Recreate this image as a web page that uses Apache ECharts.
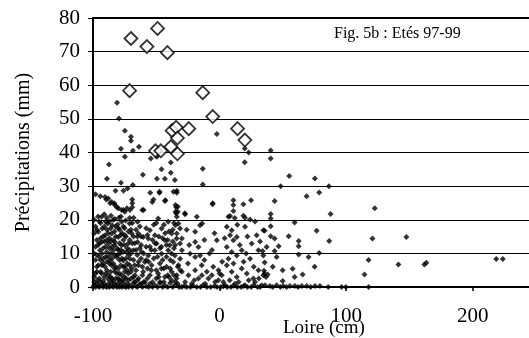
<!DOCTYPE html>
<html>
<head>
<meta charset="utf-8">
<script src="https://cdn.jsdelivr.net/npm/echarts@6/dist/echarts.min.js"></script>
<style>
  html, body {margin: 0; padding: 0; background: #fff; overflow: hidden;}
  /* the plot runs past the right edge of the window, as in the original */
  #chart {width: 536px; height: 338px;}
</style>
</head>
<body>
<div id="chart"></div>
<script>
// axis ticks
const xTicks = [-100, 0, 100, 200];
const yTicks = [0, 10, 20, 30, 40, 50, 60, 70, 80];

// open diamonds (highlighted events)
const diamonds = [
  [-70, 73.9], [-57.4, 71.5], [-49, 76.9], [-41.2, 69.7], [-71.1, 58.4],
  [-13.3, 57.8], [-5.4, 50.7], [-24.3, 47.1], [-37.5, 46.5], [-34.3, 47.5],
  [-33.3, 44.3], [-38.5, 41.7], [-33.3, 39.6], [-50.6, 40.5], [-46.4, 40.5],
  [14.2, 47.1], [20, 43.7]
];

// daily points : high values
const dotsHigh = [
  [-81, 54.8], [-79.5, 50.1], [-74.8, 46.5], [-70, 44.7], [-70, 43.5], [-77.9, 41.1],
  [-68.5, 40.5], [-63.7, 41.7], [-74.8, 38.7], [-54.3, 38.2], [-49.5, 38.7], [-87.4, 36.4],
  [-38.5, 37], [-45.9, 35], [-60.6, 33.4], [-38.5, 34], [-13.3, 35.2], [-2.2, 45.5],
  [-89, 32.2], [-49.5, 32.2], [-43.2, 32.2], [-35.3, 31.8], [-13.3, 30.5], [-77.9, 31],
  [19.9, 41.2], [23, 40], [19.9, 37.1], [40.4, 40.6], [40.4, 38.2]
];

// daily points : 20-30 mm band
const dotsMid = [
  [-98, 27.6], [-94.2, 27], [-89.5, 26], [-86.4, 24.9], [-83.2, 24.9], [-82.2, 28.6],
  [-75.9, 28.6], [-72.7, 29.3], [-68.5, 30.3], [-54.8, 28], [-47.5, 28], [-69, 26],
  [-69, 24.9], [-69, 23.7], [-52.2, 26], [-43.2, 25.6], [-33.8, 28.6], [-33.8, 28],
  [-81.1, 23.7], [-75.9, 22.9], [-73.2, 23.4], [-60, 22.9], [-34.3, 23.7], [-34.3, 21.9],
  [-27.4, 21.9], [-18, 20.9], [-13.8, 18.9], [-5.4, 24.9], [-90.5, 26.8], [-87.9, 26.3],
  [-85.3, 25.3], [-82.7, 24.4], [-80, 23.4], [-77.4, 22.9], [-70.8, 22.9], [-74.8, 22.4],
  [-53.2, 25.3], [-42.7, 25.8], [-61.1, 22.9], [-36.4, 28.3], [-34.8, 24.4], [-34.8, 22.4],
  [-47.4, 28.3], [-5.6, 24.6], [10.9, 25.8], [10.9, 24.4], [10.9, 22.6], [7, 20.9],
  [18.8, 24.6], [24.9, 25.8], [18.8, 21.2], [20.1, 20.6], [24.1, 20.1], [8.3, 21.1],
  [-33, 23.9], [-33, 22.4], [-33.8, 20.9], [-27.2, 21.6]
];

// daily points : x from -30 to 35, below 20 mm
const dotsCentre = [
  [-32.5, 18.9], [-31.2, 17.4], [-33.8, 15.9], [-15.4, 18.4], [-19.3, 16.4], [5.7, 17.9],
  [9.6, 16.9], [8.3, 15.4], [13.6, 14.9], [10.9, 13.9], [-2.2, 13.9], [20.1, 17.9],
  [29.3, 15.4], [34.6, 16.9], [-29.8, 14.4], [-31.2, 12.9], [-19.3, 13.4], [-16.7, 11.9],
  [-23.3, 9.9], [-19.3, 8.9], [-15.4, 9.4], [-29.8, 10.9], [-31.2, 8.4], [5.7, 11.9],
  [9.6, 10.4], [13.6, 9.4], [7, 8.4], [17.5, 10.9], [25.4, 12.9], [30.7, 10.9],
  [34.6, 9.4], [24.1, 8.4], [-32.5, 6.5], [-29.8, 4.5], [-24.6, 3.5], [-19.3, 5],
  [-14.1, 6.5], [-10.1, 4.5], [-6.2, 3.5], [-16.7, 2.5], [-0.9, 5], [1.7, 3.5],
  [5.7, 6.5], [9.6, 4.5], [13.6, 3], [17.5, 5.5], [21.5, 4], [26.7, 2.5],
  [30.7, 5], [34.6, 3.5], [-27.2, 1.5], [-22, 1], [-11.4, 1], [-3.5, 1.5],
  [4.4, 0.5], [12.2, 1], [20.1, 0.5], [28, 1.5], [33.3, 0.5], [-8.8, 2.5],
  [-33.8, 3.5], [-25, 7], [-12, 8], [-5, 6], [2, 7.5], [-8, 10], [-1, 2], [3, 1.5],
  [8, 2], [15, 1.5], [23, 2], [31, 2.5], [-20, 2], [-14, 3.5], [0, 4], [11, 7],
  [19, 7.5], [27, 6], [16, 12.5], [22, 15], [-4, 16], [-26, 17], [-24, 12.5], [-12, 14],
  [28, 19.5], [32, 13.5], [4, 14.5], [-6, 11], [14, 18.5], [12, 20.5], [21, 10]
];

// daily points : dense cloud, x from -100 to -30, below 22 mm
const dotsDense = [
  [-93.2, 20.9], [-91.1, 21.6], [-89, 20.6], [-85.8, 21.2], [-82.7, 20.2], [-79.5, 20.6],
  [-77.4, 19.4], [-74.2, 19.8], [-71.1, 18.9], [-67.9, 20.6], [-64.8, 19.4], [-88.4, 18.9],
  [-84.8, 18.4], [-80.6, 18.6], [-92.7, 17.4], [-48.5, 20.4], [-40.6, 19.4], [-34.8, 18.4],
  [-55, 16.9], [-51.1, 15.4], [-56.3, 14.4], [-45.8, 17.4], [-37.9, 15.9], [-43.2, 13.9],
  [-34, 14.4], [-64.2, 15.9], [-60.3, 14.9], [-64.8, 13.4], [-49.8, 12.9], [-39.3, 12.4],
  [-95.8, 16.4], [-90.5, 15.4], [-85.3, 15.9], [-80, 14.9], [-74.8, 15.4], [-69.5, 15.9],
  [-93.2, 13.4], [-87.9, 12.9], [-82.7, 13.4], [-77.4, 12.4], [-72.1, 12.9],
  [-94.5, 10.9], [-89.2, 10.4], [-84, 10.9], [-78.7, 9.9], [-73.5, 10.4], [-68.2, 10.9],
  [-91.9, 8.4], [-86.6, 7.9], [-81.3, 8.9], [-76.1, 7.9], [-70.8, 8.4],
  [-95.8, 6.5], [-90.5, 6], [-85.3, 6.5], [-80, 5.5], [-74.8, 6], [-69.5, 5.5], [-64.2, 6.5],
  [-93.2, 4], [-87.9, 3.5], [-82.7, 4.5], [-77.4, 3.5], [-72.1, 4], [-66.9, 3.5],
  [-61.6, 10.4], [-56.3, 9.4], [-51.1, 10.9], [-45.8, 9.9], [-40.6, 10.9], [-35.3, 9.4],
  [-59, 7.4], [-53.7, 6.5], [-47.1, 7], [-41.9, 6], [-36.6, 7.4], [-60.3, 4.5],
  [-55, 3.5], [-48.5, 4], [-43.2, 3], [-37.9, 4.5], [-34, 2.5],
  [-98, 12], [-98, 8], [-98, 4], [-98, 18], [-96, 21], [-97, 14], [-96.5, 2], [-94, 19],
  [-92, 15], [-90, 12], [-88, 9], [-86, 13.5], [-84, 7], [-83, 16.5], [-81, 11.5], [-79, 17],
  [-78, 6.5], [-76, 14], [-75, 17.5], [-73, 7], [-71, 14], [-70, 2.5], [-68, 8], [-67, 13],
  [-66, 17], [-63, 11.5], [-62, 8.5], [-58, 12], [-57, 5.5], [-52, 8.5], [-50, 2.5], [-46, 12],
  [-44, 5.5], [-39, 8], [-36, 11.5], [-33, 6], [-95, 9], [-93, 6.5], [-91, 3], [-89, 17],
  [-87, 19.5], [-85, 2.5], [-83, 9.5], [-82, 18], [-80, 2.5], [-78, 15.5], [-76, 10.5],
  [-74, 2.5], [-72, 16.5], [-70, 10], [-66, 5], [-64, 2.5], [-62, 15], [-59, 1.5], [-54, 11],
  [-52, 18.5], [-48, 15], [-44, 18.5], [-42, 9], [-40, 16.5], [-38, 2], [-36, 19], [-31, 5],
  [-99, 1.5], [-97, 6], [-95, 13], [-93, 10], [-91, 18], [-89, 7.5], [-87, 11.5], [-86, 4.5],
  [-84, 14], [-82, 6], [-80, 11], [-79, 8], [-77, 16], [-75, 4.5], [-73, 11.5], [-71, 6.5],
  [-69, 19], [-67, 1.5], [-65, 9.5], [-61, 3.5], [-58, 17.5], [-56, 7.5], [-53, 14], [-50, 5],
  [-47, 1.5], [-45, 14.5], [-42, 12.5], [-39, 5.5], [-37, 13.5], [-35, 1.5],
  [-99, 3], [-97, 4.5], [-95, 2.5], [-92, 1.8], [-90, 4], [-88, 2.3], [-86, 3], [-84, 1.8],
  [-82, 2.5], [-79, 4], [-77, 2], [-75, 3], [-72, 2], [-70, 4.5], [-68, 3], [-65, 2],
  [-62, 1], [-57, 2.5], [-53, 1.5], [-48, 3], [-44, 1.5], [-40, 3], [-36, 3.5], [-33, 1],
  [-99, 10], [-99, 16], [-99, 20], [-97, 9.5], [-97, 17], [-96, 12.5], [-95, 19.5], [-94, 8],
  [-94, 14.5], [-94, 4.5], [-92, 11.5], [-92, 7], [-91, 13.5], [-90, 9], [-90, 19.5], [-89, 14],
  [-89, 5], [-88, 16], [-87, 7], [-87, 14.5], [-86, 10], [-86, 17.5], [-85, 12], [-85, 8.5],
  [-84, 20], [-83, 5.5], [-83, 12.5], [-82, 15], [-81, 4], [-81, 9.5], [-80, 17.5], [-79, 13],
  [-79, 2], [-78, 11], [-78, 21], [-77, 8.5], [-76, 6], [-76, 18], [-75, 12.5], [-74, 8.5],
  [-74, 15], [-73, 5], [-72, 9.5], [-71, 11], [-71, 20.5], [-70, 17], [-69, 13], [-68, 15],
  [-67, 6.5], [-66, 11], [-65, 15], [-64, 7.5], [-63, 18], [-62, 12.5], [-61, 6], [-60, 10],
  [-58, 8], [-57, 15.5], [-55, 12], [-54, 5], [-51, 13], [-50, 19], [-49, 9], [-47, 11.5],
  [-46, 5.5], [-45, 8], [-43, 16], [-41, 14], [-41, 3.5], [-38, 10], [-37, 17], [-35, 12.5]
];

// daily points : near zero rainfall
const dotsZero = [
  [-100, 0], [-99, 0.5], [-98, 0], [-97, 1], [-96, 0.3], [-95, 0], [-94, 1.5], [-93, 0.5],
  [-92, 0], [-91, 1], [-90, 0.2], [-89, 0], [-88, 0.8], [-87, 0], [-86, 1.5], [-85, 0.3],
  [-84, 0], [-83, 1], [-82, 0.4], [-81, 0], [-80, 1.2], [-79, 0], [-78, 0.6], [-77, 0],
  [-76, 1.4], [-75, 0.2], [-74, 0], [-73, 0.9], [-72, 0], [-71, 0.5], [-69, 0], [-68, 1.2],
  [-66, 0.3], [-65, 0], [-63, 0.8], [-61, 0], [-60, 1.5], [-58, 0.2], [-56, 0], [-55, 1],
  [-53, 0], [-51, 0.5], [-49, 0], [-47, 1.1], [-45, 0], [-43, 0.4], [-41, 0], [-39, 1.2],
  [-37, 0], [-35, 0.5], [-32, 0], [-30, 0], [-28, 0.3], [-26, 0], [-23, 0], [-21, 0.4],
  [-18, 0], [-15, 0], [-13, 0.5], [-10, 0], [-7, 0], [-4, 0.3], [-2, 0], [1, 0],
  [3, 0.2], [6, 0], [9, 0], [11, 0.4], [14, 0], [17, 0], [19, 0.3], [22, 0],
  [25, 0], [27, 0.5], [30, 0], [32, 0], [39.8, 0.3], [45.1, 0.5], [50.3, 0.3], [55.6, 0.3],
  [59.5, 0.3], [68.8, 0.3], [75.4, 0.3], [79.3, 0.3], [85.8, 0], [96.4, 0], [99.8, 0],
  [117.7, 0], [36, 0.5], [42, 0], [48, 0], [53, 0], [62, 0], [65, 0.3], [72, 0]
];

// daily points : x above 34
const dotsRight = [
  [55, 33], [75.3, 32.3], [48.3, 30], [86.4, 30], [78.7, 28.1], [68.8, 27], [43.5, 25.6],
  [122.6, 23.4], [40.4, 21.7], [40.4, 20.4], [87.7, 21.7], [59.3, 19.2], [40.4, 18.1],
  [35.6, 16.7], [76.7, 16.7], [54.6, 15.1], [40.4, 15.1], [43.5, 14.4], [120.8, 14.4],
  [147.6, 14.9], [62.5, 13.7], [86.6, 13.7], [37.2, 11.9], [46.7, 12.1], [62.5, 12.1],
  [34, 10.7], [43.5, 10.7], [62.5, 9.7], [78.7, 10.1], [45.1, 8.9], [70.3, 8.9], [117.7, 8],
  [141.3, 6.7], [161.8, 6.7], [163.4, 7.2], [218.6, 8.3], [223.8, 8.3], [42, 6], [57.7, 5.4],
  [75.1, 6], [49.8, 5], [35.1, 4.8], [35.6, 4], [65.6, 3.7], [59.3, 3], [114.5, 3.7],
  [36.7, 3], [49.8, 1.8], [35.6, 7.3], [38, 3.7]
];

const dots = [].concat(dotsHigh, dotsMid, dotsCentre, dotsDense, dotsZero, dotsRight);

const serif = '"Liberation Serif", "Times New Roman", serif';

const chart = echarts.init(document.getElementById('chart'), null, {renderer: 'canvas'});
chart.setOption({
  animation: false,
  backgroundColor: '#fff',
  grid: {
    left: 93, top: 18, bottom: 51, right: 0,
    show: true, borderColor: '#000', borderWidth: 2
  },
  xAxis: {
    type: 'value',
    min: xTicks[0], max: 250, interval: 100,
    axisLine: {show: true, onZero: false, lineStyle: {color: '#000', width: 2}},
    axisTick: {show: true, length: 4, inside: false, lineStyle: {color: '#000', width: 1.5}},
    axisLabel: {
      margin: 19, color: '#000', fontFamily: serif, fontSize: 21,
      showMaxLabel: false
    },
    splitLine: {show: false}
  },
  yAxis: {
    type: 'value',
    min: yTicks[0], max: yTicks[yTicks.length - 1], interval: 10,
    name: 'Précipitations (mm)',
    nameLocation: 'middle', nameRotate: 90, nameGap: 59,
    nameTextStyle: {color: '#000', fontFamily: serif, fontSize: 20},
    axisLine: {show: true, onZero: false, lineStyle: {color: '#000', width: 2}},
    axisTick: {show: true, length: 5, lineStyle: {color: '#000', width: 1}},
    axisLabel: {margin: 13, color: '#000', fontFamily: serif, fontSize: 21},
    splitLine: {show: true, lineStyle: {color: '#000', width: 1}}
  },
  graphic: [
    {
      type: 'text', left: 283, top: 319,
      style: {text: 'Loire (cm)', font: '19px ' + serif, fill: '#000', textAlign: 'center'}
    },
    {
      type: 'text', left: 334, top: 26,
      style: {text: 'Fig. 5b : Etés 97-99', font: '16px ' + serif, fill: '#000'}
    }
  ],
  series: [
    {
      type: 'scatter',
      data: dots,
      symbol: 'diamond',
      symbolSize: 6,
      itemStyle: {color: '#000'},
      z: 2
    },
    {
      type: 'scatter',
      data: diamonds,
      symbol: 'diamond',
      symbolSize: 13,
      itemStyle: {color: '#fff', borderColor: '#000', borderWidth: 1.8},
      z: 3
    }
  ]
});
</script>
</body>
</html>
